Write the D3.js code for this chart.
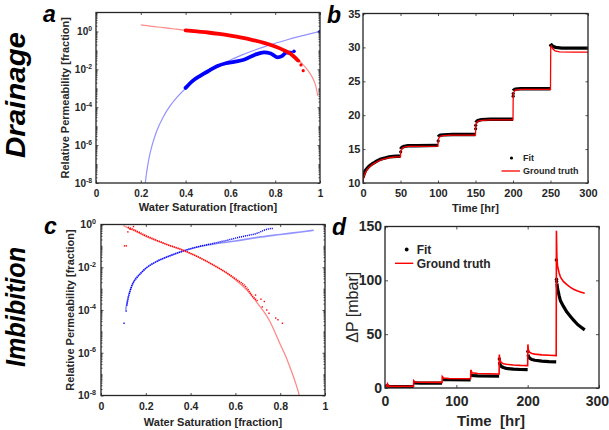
<!DOCTYPE html>
<html>
<head>
<meta charset="utf-8">
<script src="https://cdn.jsdelivr.net/npm/d3@7"></script>
<style>
  body { margin: 0; background: #fff; }
  svg { display: block; }
</style>
</head>
<body>
<svg id="fig" width="609" height="430"></svg>
<script>
// ---------- Drainage: relative permeability (panel a) ----------
const drainKroTrueSw = [0.2, 0.25, 0.3, 0.35, 0.4, 0.45, 0.5, 0.55, 0.6, 0.65, 0.7, 0.75, 0.8, 0.85, 0.88, 0.9, 0.92, 0.94, 0.96, 0.97, 0.98, 0.99];
const drainKroTrue   = [2.2, 1.85, 1.6, 1.35, 1.15, 1.0, 0.88, 0.74, 0.6, 0.47, 0.35, 0.25, 0.16, 0.09, 0.055, 0.035, 0.02, 0.011, 0.005, 0.003, 0.0015, 0.0004];
const drainKroFitSw  = [0.4, 0.45, 0.5, 0.55, 0.6, 0.65, 0.7, 0.75, 0.8, 0.84, 0.87, 0.89, 0.9];
const drainKroFit    = [1.15, 1.0, 0.88, 0.74, 0.6, 0.47, 0.35, 0.25, 0.16, 0.1, 0.065, 0.04, 0.03];
const drainKroOutSw  = [0.905, 0.915, 0.925];
const drainKroOut    = [0.028, 0.017, 0.0085];

const drainKrwTrueSw = [0.22, 0.225, 0.23, 0.24, 0.25, 0.27, 0.3, 0.33, 0.36, 0.4, 0.45, 0.5, 0.55, 0.6, 0.65, 0.7, 0.75, 0.8, 0.85, 0.9, 0.95, 1.0];
const drainKrwTrue   = [1e-8, 3e-8, 7.4e-8, 3.1e-7, 9.5e-7, 5.1e-6, 3.05e-5, 1.13e-4, 3.2e-4, 9.8e-4, 3e-3, 7.4e-3, 0.016, 0.031, 0.056, 0.095, 0.153, 0.237, 0.354, 0.513, 0.724, 1.0];
const drainKrwFitSw  = [0.4, 0.43, 0.467, 0.5, 0.54, 0.58, 0.616, 0.66, 0.71, 0.75, 0.78, 0.81, 0.83, 0.85, 0.87];
const drainKrwFit    = [1.05e-3, 2.4e-3, 4.7e-3, 7.9e-3, 0.0145, 0.021, 0.025, 0.032, 0.059, 0.079, 0.069, 0.043, 0.05, 0.076, 0.076];
const drainKrwOutSw  = [0.884, 1.0];
const drainKrwOut    = [0.089, 1.0];

// ---------- Drainage: pressure history (panel b) ----------
const drainTrueT = [0, 1, 2, 3, 5, 7, 9, 12, 15, 18, 22, 26, 30, 35, 40, 45, 50,
                    50.3, 51, 52, 55, 60, 70, 100,
                    100.3, 101, 103, 107, 120, 150,
                    150.3, 151, 153, 158, 170, 200,
                    200.3, 201, 203, 210, 250,
                    250.3, 251, 253, 256, 262, 280, 300];
const drainTrueV = [10.1, 10.9, 11.2, 11.5, 11.9, 12.2, 12.4, 12.7, 12.9, 13.1, 13.3, 13.5, 13.6, 13.75, 13.8, 13.85, 13.85,
                    14.6, 14.9, 15.1, 15.3, 15.4, 15.4, 15.45,
                    16.3, 16.6, 16.9, 17.0, 17.05, 17.05,
                    18.4, 18.8, 19.1, 19.25, 19.3, 19.3,
                    23.0, 23.4, 23.7, 23.8, 23.8,
                    30.0, 30.2, 29.8, 29.5, 29.35, 29.3, 29.3];
const drainFitT = [0, 1, 2, 3, 5, 7, 9, 12, 15, 18, 22, 26, 30, 35, 40, 45, 50, 50,
                   50.5, 51, 52, 55, 60, 70, 100, 100,
                   100.5, 101, 103, 107, 120, 150, 150,
                   150.5, 151, 153, 158, 170, 200, 200,
                   200.5, 201, 203, 210, 250, 250,
                   250.5, 251, 253, 257, 265, 280, 300];
const drainFitV = [10.8, 11.2, 11.5, 11.8, 12.1, 12.35, 12.55, 12.8, 13.0, 13.2, 13.45, 13.6, 13.7, 13.85, 13.9, 13.95, 13.95, null,
                   15.0, 15.15, 15.25, 15.4, 15.5, 15.5, 15.55, null,
                   16.8, 16.9, 17.05, 17.1, 17.15, 17.15, null,
                   18.9, 19.0, 19.2, 19.35, 19.4, 19.4, null,
                   23.6, 23.7, 23.85, 23.9, 23.9, null,
                   30.4, 30.4, 30.15, 30.0, 29.9, 29.9, 29.9];
const drainFitJumpT = [50.3, 100.2, 150.2, 150.3, 200.2, 200.3, 250.2];
const drainFitJumpV = [14.6, 16.2, 18.0, 18.5, 22.8, 23.2, 30.3];

// ---------- Imbibition: relative permeability (panel c) ----------
const imbKroTrueSw = [0.1, 0.15, 0.2, 0.25, 0.3, 0.35, 0.4, 0.45, 0.5, 0.55, 0.6, 0.65, 0.7, 0.75, 0.8, 0.83, 0.85, 0.87, 0.88, 0.89];
const imbKroTrue   = [0.89, 0.5, 0.28, 0.17, 0.11, 0.074, 0.045, 0.025, 0.013, 6.3e-3, 2.6e-3, 8.9e-4, 2.0e-4, 3.5e-5, 2.5e-6, 5e-7, 1.4e-7, 3.5e-8, 1.6e-8, 6.3e-9];
const imbKroFitSw  = [0.12, 0.15, 0.2, 0.25, 0.3, 0.35, 0.4, 0.45, 0.5, 0.55, 0.6, 0.65, 0.68, 0.7];
const imbKroFit    = [0.75, 0.55, 0.3, 0.18, 0.11, 0.072, 0.044, 0.025, 0.013, 6.5e-3, 2.9e-3, 1.1e-3, 4e-4, 2.6e-4];
const imbKroOutSw  = [0.105, 0.113, 0.12, 0.13, 0.145, 0.69, 0.714, 0.72, 0.729, 0.74, 0.75, 0.78, 0.79, 0.81];
const imbKroOut    = [0.1, 0.1, 0.45, 0.6, 0.8, 5e-4, 3.2e-4, 1.4e-4, 2.5e-4, 1e-4, 7e-5, 4.2e-5, 3.5e-5, 2.4e-5];

const imbKrwTrueSw = [0.11, 0.12, 0.13, 0.15, 0.18, 0.2, 0.25, 0.3, 0.35, 0.4, 0.5, 0.6, 0.7, 0.8, 0.9, 0.95];
const imbKrwTrue   = [1e-4, 3.2e-4, 8e-4, 2.5e-3, 5.6e-3, 8.9e-3, 0.019, 0.032, 0.05, 0.074, 0.12, 0.17, 0.25, 0.34, 0.46, 0.54];
const imbKrwFitSw  = [0.115, 0.12, 0.13, 0.14, 0.16, 0.18, 0.2, 0.25, 0.3, 0.35, 0.4, 0.45, 0.5, 0.55, 0.6, 0.65, 0.7, 0.73, 0.76, 0.77];
const imbKrwFit    = [1.6e-4, 3.2e-4, 8e-4, 1.6e-3, 3.2e-3, 5.6e-3, 8.9e-3, 0.019, 0.032, 0.05, 0.074, 0.1, 0.13, 0.17, 0.23, 0.3, 0.4, 0.55, 0.65, 0.66];
const imbKrwOutSw  = [0.103, 0.112];
const imbKrwOut    = [2.4e-5, 9e-5];

// ---------- Imbibition: pressure drop (panel d) ----------
const imbTrueT = [0, 2, 3.5, 4.5, 6, 10, 40,
                  40.3, 42, 50, 80,
                  80.3, 82, 90, 120,
                  120.3, 122, 130, 160,
                  160.3, 161, 163, 166, 170, 180, 190, 200,
                  200.3, 201, 203, 206, 210, 220, 230, 240,
                  240.3, 241, 242, 244, 246, 250, 255, 260, 265, 270, 275, 280];
const imbTrueV = [0.5, 1.5, 3.8, 1.8, 1.5, 1.5, 1.6,
                  6.8, 5.6, 5.3, 5.2,
                  10.6, 9.2, 8.8, 8.6,
                  16.8, 14.2, 13.4, 13.0,
                  31, 26, 23.6, 22.6, 22.0, 21.4, 21.0, 20.8,
                  40.5, 35, 33, 32, 31.5, 30.8, 30.4, 30.1,
                  146, 120, 113, 107, 103, 99, 96, 93.5, 91.5, 90, 89, 88];
const imbFitT = [0, 3, 6, 40, 40,
                 40.5, 50, 80, 80,
                 80.5, 90, 120, 120,
                 120.5, 130, 160, 160,
                 160.6, 161, 163, 166, 170, 180, 190, 200, 200,
                 200.6, 201, 203, 206, 210, 220, 230, 240, 240,
                 241, 242, 244, 246, 250, 255, 260, 265, 270, 275, 280];
const imbFitV = [1.3, 2.2, 1.4, 1.4, null,
                 4.7, 4.6, 4.5, null,
                 7.8, 7.7, 7.6, null,
                 11.6, 11.3, 11.1, null,
                 24, 22, 20, 19, 18.2, 17.5, 17.2, 17, null,
                 31, 29.5, 27.5, 26.5, 25.8, 25, 24.5, 24.2, null,
                 97, 92, 86, 81, 76, 70.5, 66.5, 62.5, 59, 56.5, 54];
const imbFitSpikeT = [160.3, 200.3, 240.2, 240.4, 240.6];
const imbFitSpikeV = [27, 34, 119, 101, 99];

// ---------- tick values and labels ----------
const satTicks = [0, 0.2, 0.4, 0.6, 0.8, 1];
const krTicks = [1e-8, 1e-6, 1e-4, 1e-2, 1];
const drainTimeTicks = [0, 50, 100, 150, 200, 250, 300];
const drainPTicks = [10, 15, 20, 25, 30, 35];
const imbTimeTicks = [0, 100, 200, 300];
const imbPTicks = [0, 50, 100, 150];
const legendLabels = ["Fit", "Ground truth"];

// ---------- drawing ----------
const FONT = '"Liberation Sans", Arial, Helvetica, sans-serif';
const INK = '#262626';
const svg = d3.select('#fig');

const zip = (xs, ys) => xs.map((x, i) => ({ x, y: ys[i] }));

function logMinor(lo, hi, majors) {
  const out = [];
  for (let n = Math.round(Math.log10(lo)); n < Math.round(Math.log10(hi)) + 1; n++) {
    for (let k = 1; k <= 9; k++) {
      const v = k * Math.pow(10, n);
      if (v >= lo * 0.999 && v <= hi * 1.001 && !majors.some(m => Math.abs(m - v) / v < 1e-6)) out.push(v);
    }
  }
  return out;
}

function styleAxis(sel, fs) {
  sel.attr('font-family', FONT).attr('font-size', fs).attr('font-weight', 'bold')
     .attr('color', INK);
  sel.select('.domain').remove();
  sel.selectAll('.tick line').attr('stroke-width', 0.8);
}

function makePanel(id, box) {
  svg.append('clipPath').attr('id', 'clip-' + id).append('rect')
    .attr('x', box.left).attr('y', box.top)
    .attr('width', box.right - box.left).attr('height', box.bottom - box.top);
  const g = svg.append('g');
  const plot = g.append('g').attr('clip-path', `url(#clip-${id})`);
  return { g, plot };
}

function drawAxes(g, box, x, y, o) {
  const t = o.tick;
  const none = () => '';
  const xb = g.append('g').attr('transform', `translate(0,${box.bottom})`)
    .call(d3.axisBottom(x).tickValues(o.xTicks).tickSizeInner(-t).tickSizeOuter(0).tickPadding(o.xPad).tickFormat(o.xFmt))
    .call(styleAxis, o.fs);
  g.append('g').attr('transform', `translate(0,${box.top})`)
    .call(d3.axisTop(x).tickValues(o.xTicks).tickSizeInner(-t).tickSizeOuter(0).tickFormat(none))
    .call(styleAxis, o.fs);
  const yl = g.append('g').attr('transform', `translate(${box.left},0)`)
    .call(d3.axisLeft(y).tickValues(o.yTicks).tickSizeInner(-t).tickSizeOuter(0).tickPadding(o.yPad).tickFormat(o.yFmt))
    .call(styleAxis, o.fs);
  g.append('g').attr('transform', `translate(${box.right},0)`)
    .call(d3.axisRight(y).tickValues(o.yTicks).tickSizeInner(-t).tickSizeOuter(0).tickFormat(none))
    .call(styleAxis, o.fs);
  if (o.yMinor) {
    g.append('g').attr('transform', `translate(${box.left},0)`)
      .call(d3.axisLeft(y).tickValues(o.yMinor).tickSizeInner(-t * 0.6).tickSizeOuter(0).tickFormat(none))
      .call(styleAxis, o.fs);
    g.append('g').attr('transform', `translate(${box.right},0)`)
      .call(d3.axisRight(y).tickValues(o.yMinor).tickSizeInner(-t * 0.6).tickSizeOuter(0).tickFormat(none))
      .call(styleAxis, o.fs);
  }
  if (o.logLabels) {
    yl.selectAll('.tick text').each(function (d) {
      const s = d3.select(this);
      s.text('');
      s.append('tspan').text('10');
      s.append('tspan').attr('dy', -o.fs * 0.42).attr('font-size', o.fs * 0.68)
        .text(String(Math.round(Math.log10(d))));
    });
  }
  if (o.lastXRightEdge != null) {
    // keep the last x label inside the page
    xb.selectAll('.tick:last-of-type text').attr('text-anchor', 'end').attr('x', o.lastXRightEdge);
  }
  g.append('rect')
    .attr('x', box.left).attr('y', box.top)
    .attr('width', box.right - box.left).attr('height', box.bottom - box.top)
    .attr('fill', 'none').attr('stroke', INK).attr('stroke-width', 1.3);
}

function label(g, txt, x, y, fs, rotate, weight) {
  return g.append('text')
    .attr('transform', `translate(${x},${y})` + (rotate ? ' rotate(-90)' : ''))
    .attr('text-anchor', 'middle')
    .attr('font-family', FONT).attr('font-size', fs).attr('font-weight', weight || 'bold')
    .attr('fill', INK).style('white-space', 'pre')
    .text(txt);
}

function panelLetter(txt, x, y) {
  svg.append('text').attr('x', x).attr('y', y)
    .attr('font-family', FONT).attr('font-size', 23).attr('font-weight', 'bold')
    .attr('font-style', 'italic').attr('fill', '#000').text(txt);
}

function rowTitle(txt, x, y, len) {
  svg.append('text')
    .attr('transform', `translate(${x},${y}) rotate(-90)`)
    .attr('text-anchor', 'middle')
    .attr('font-family', FONT).attr('font-size', 27).attr('font-weight', 'bold')
    .attr('font-style', 'italic').attr('fill', '#000')
    .attr('textLength', len).attr('lengthAdjust', 'spacingAndGlyphs')
    .text(txt);
}

const satFmt = d => d === 0 ? '0' : d === 1 ? '1' : d3.format('.1f')(d);

// ----- panel a -----
(function () {
  const box = { left: 96, right: 320, top: 12.5, bottom: 183 };
  const { g, plot } = makePanel('a', box);
  const x = d3.scaleLinear().domain([0, 1]).range([box.left, box.right]);
  const y = d3.scaleLog().domain([1e-8, 10]).range([box.bottom, box.top]);
  const line = d3.line().x(d => x(d.x)).y(d => y(d.y)).curve(d3.curveMonotoneX);

  plot.append('path').datum(zip(drainKroTrueSw, drainKroTrue)).attr('d', line)
    .attr('fill', 'none').attr('stroke', '#ff8a8a').attr('stroke-width', 1.2);
  plot.append('path').datum(zip(drainKrwTrueSw, drainKrwTrue)).attr('d', line)
    .attr('fill', 'none').attr('stroke', '#9393ff').attr('stroke-width', 1.2);
  plot.append('path').datum(zip(drainKrwFitSw, drainKrwFit)).attr('d', line)
    .attr('fill', 'none').attr('stroke', '#0000ff').attr('stroke-width', 3.8).attr('stroke-linecap', 'round');
  plot.selectAll('circle.bw').data(zip(drainKrwOutSw, drainKrwOut)).join('circle')
    .attr('cx', d => x(d.x)).attr('cy', d => y(d.y)).attr('r', 1.8).attr('fill', '#0000ff');
  plot.append('path').datum(zip(drainKroFitSw, drainKroFit)).attr('d', line)
    .attr('fill', 'none').attr('stroke', '#ff0000').attr('stroke-width', 3.8).attr('stroke-linecap', 'round');
  plot.selectAll('circle.ro').data(zip(drainKroOutSw, drainKroOut)).join('circle')
    .attr('cx', d => x(d.x)).attr('cy', d => y(d.y)).attr('r', 1.6).attr('fill', '#ff0000');

  drawAxes(g, box, x, y, {
    tick: 2.5, fs: 10, xTicks: satTicks, xFmt: satFmt, xPad: 6.5,
    yTicks: krTicks, yFmt: d => String(d), yPad: 4, logLabels: true,
    yMinor: logMinor(1e-8, 10, krTicks)
  });
  label(g, 'Water Saturation [fraction]', (box.left + box.right) / 2, 210.5, 11, false);
  label(g, 'Relative Permeability [fraction]', 69, (box.top + box.bottom) / 2, 11, true);
})();

// ----- panel b -----
(function () {
  const box = { left: 363, right: 588, top: 13.5, bottom: 183 };
  const { g, plot } = makePanel('b', box);
  const x = d3.scaleLinear().domain([0, 300]).range([box.left, box.right]);
  const y = d3.scaleLinear().domain([10, 35]).range([box.bottom, box.top]);
  const line = d3.line().defined(d => d.y != null).x(d => x(d.x)).y(d => y(d.y));

  plot.append('path').datum(zip(drainFitT, drainFitV)).attr('d', line)
    .attr('fill', 'none').attr('stroke', '#000').attr('stroke-width', 3.4).attr('stroke-linejoin', 'round');
  plot.selectAll('circle.fj').data(zip(drainFitJumpT, drainFitJumpV)).join('circle')
    .attr('cx', d => x(d.x)).attr('cy', d => y(d.y)).attr('r', 1.6).attr('fill', '#000');
  plot.append('path').datum(zip(drainTrueT, drainTrueV)).attr('d', line)
    .attr('fill', 'none').attr('stroke', '#ff0000').attr('stroke-width', 1.3);

  drawAxes(g, box, x, y, {
    tick: 2.5, fs: 11, xTicks: drainTimeTicks, xFmt: d3.format('d'), xPad: 6.5,
    yTicks: drainPTicks, yFmt: d3.format('d'), yPad: 2.5
  });
  label(g, 'Time [hr]', (box.left + box.right) / 2, 212, 11, false);

  // legend
  const lg = g.append('g').attr('font-family', FONT).attr('font-weight', 'bold').attr('font-size', 9).attr('fill', INK);
  lg.append('circle').attr('cx', 511.5).attr('cy', 158).attr('r', 1.6).attr('fill', '#000');
  lg.append('text').attr('x', 523).attr('y', 161.3).text(legendLabels[0]);
  lg.append('line').attr('x1', 501.5).attr('x2', 520).attr('y1', 171).attr('y2', 171)
    .attr('stroke', '#ff0000').attr('stroke-width', 1.3);
  lg.append('text').attr('x', 523).attr('y', 174.3).text(legendLabels[1]);
})();

// ----- panel c -----
(function () {
  const box = { left: 101, right: 325, top: 224.5, bottom: 395.5 };
  const { g, plot } = makePanel('c', box);
  const x = d3.scaleLinear().domain([0, 1]).range([box.left, box.right]);
  const y = d3.scaleLog().domain([1e-8, 1]).range([box.bottom, box.top]);
  const line = d3.line().x(d => x(d.x)).y(d => y(d.y)).curve(d3.curveMonotoneX);

  plot.append('path').datum(zip(imbKrwTrueSw, imbKrwTrue)).attr('d', line)
    .attr('fill', 'none').attr('stroke', '#9393ff').attr('stroke-width', 1.6);
  plot.append('path').datum(zip(imbKroTrueSw, imbKroTrue)).attr('d', line)
    .attr('fill', 'none').attr('stroke', '#ff8a8a').attr('stroke-width', 1.3);
  plot.append('path').datum(zip(imbKrwFitSw, imbKrwFit)).attr('d', line)
    .attr('fill', 'none').attr('stroke', '#0000ff').attr('stroke-width', 1.5).attr('stroke-dasharray', '1.1 0.9');
  plot.append('path').datum(zip(imbKroFitSw, imbKroFit)).attr('d', line)
    .attr('fill', 'none').attr('stroke', '#ff0000').attr('stroke-width', 1.7).attr('stroke-dasharray', '1.1 0.9');
  plot.selectAll('rect.bo').data(zip(imbKrwOutSw, imbKrwOut)).join('rect')
    .attr('x', d => x(d.x) - 0.7).attr('y', d => y(d.y) - 0.7).attr('width', 1.4).attr('height', 1.4).attr('fill', '#0000ff');
  plot.selectAll('rect.ro').data(zip(imbKroOutSw, imbKroOut)).join('rect')
    .attr('x', d => x(d.x) - 0.7).attr('y', d => y(d.y) - 0.7).attr('width', 1.4).attr('height', 1.4).attr('fill', '#ff0000');

  drawAxes(g, box, x, y, {
    tick: 2.5, fs: 10.5, xTicks: satTicks, xFmt: satFmt, xPad: 7.5,
    yTicks: krTicks, yFmt: d => String(d), yPad: 5, logLabels: true,
    yMinor: logMinor(1e-8, 1, krTicks)
  });
  label(g, 'Water Saturation [fraction]', (box.left + box.right) / 2, 425.5, 11, false);
  label(g, 'Relative Permeability [fraction]', 74, (box.top + box.bottom) / 2, 11, true);
})();

// ----- panel d -----
(function () {
  const box = { left: 385, right: 599, top: 226.5, bottom: 388 };
  const { g, plot } = makePanel('d', box);
  const x = d3.scaleLinear().domain([0, 300]).range([box.left, box.right]);
  const y = d3.scaleLinear().domain([0, 150]).range([box.bottom, box.top]);
  const line = d3.line().defined(d => d.y != null).x(d => x(d.x)).y(d => y(d.y));

  plot.append('path').datum(zip(imbFitT, imbFitV)).attr('d', line)
    .attr('fill', 'none').attr('stroke', '#000').attr('stroke-width', 3.2).attr('stroke-linejoin', 'round');
  plot.selectAll('circle.sp').data(zip(imbFitSpikeT, imbFitSpikeV)).join('circle')
    .attr('cx', d => x(d.x)).attr('cy', d => y(d.y)).attr('r', 1.7).attr('fill', '#000');
  plot.append('path').datum(zip(imbTrueT, imbTrueV)).attr('d', line)
    .attr('fill', 'none').attr('stroke', '#ff0000').attr('stroke-width', 1.6);

  drawAxes(g, box, x, y, {
    tick: 3, fs: 14, xTicks: imbTimeTicks, xFmt: d3.format('d'), xPad: 7.8,
    yTicks: imbPTicks, yFmt: d3.format('d'), yPad: 3, lastXRightEdge: 9.5
  });
  label(g, 'Time  [hr]', 491, 425.5, 15, false);
  label(g, 'ΔP [mbar]', 358, (box.top + box.bottom) / 2, 16, true, 'normal');

  const lg = g.append('g').attr('font-family', FONT).attr('font-weight', 'bold').attr('font-size', 12).attr('fill', INK);
  lg.append('circle').attr('cx', 406.7).attr('cy', 249.5).attr('r', 1.9).attr('fill', '#000');
  lg.append('text').attr('x', 416.7).attr('y', 254).text(legendLabels[0]);
  lg.append('line').attr('x1', 395).attr('x2', 413.3).attr('y1', 263.3).attr('y2', 263.3)
    .attr('stroke', '#ff0000').attr('stroke-width', 1.4);
  lg.append('text').attr('x', 416.7).attr('y', 268).text(legendLabels[1]);
})();

// ----- panel letters and row titles -----
panelLetter('a', 43, 21.5);
panelLetter('b', 327, 23);
panelLetter('c', 44, 234);
panelLetter('d', 332, 235);
rowTitle('Drainage', 25, 95, 126);
rowTitle('Imbibition', 25, 307, 120);
</script>
</body>
</html>
